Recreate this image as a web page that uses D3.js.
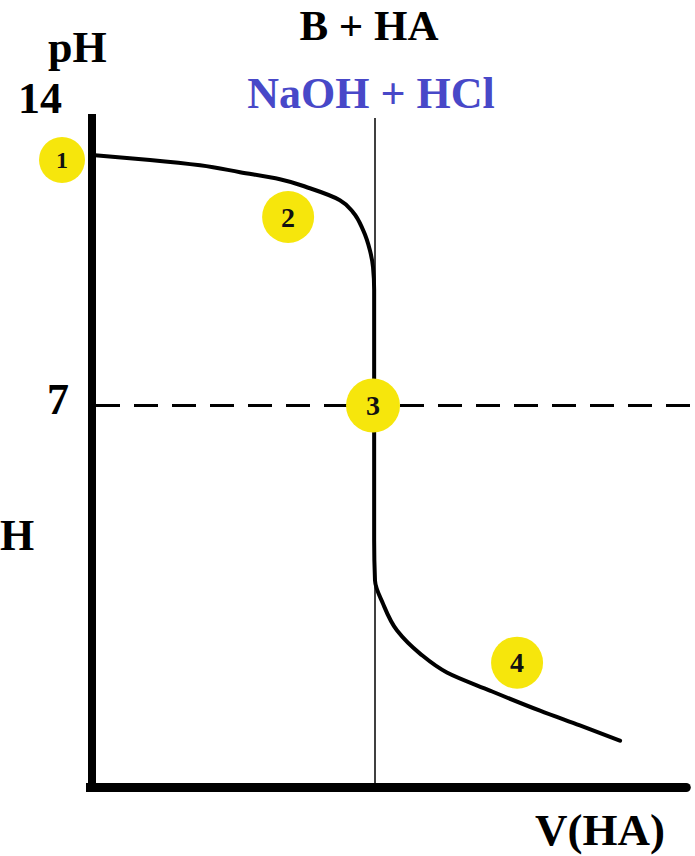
<!DOCTYPE html>
<html><head><meta charset="utf-8">
<script src="https://cdn.jsdelivr.net/npm/d3@7"></script>
<style>html,body{margin:0;padding:0;background:#fff;overflow:hidden}</style>
</head><body>
<svg id="c" width="695" height="856"></svg>
<script>
// Titration curve data: volume of HA added vs pH
const volume = [0, 2.05, 3.82, 5.23, 6.64, 7.70, 8.76, 9.22, 9.58, 9.82, 9.93, 9.97, 9.97, 9.97, 9.97, 9.97, 10.0, 10.28, 10.78, 11.59, 12.54, 14.06, 15.83, 17.24, 18.66];
const pH     = [13.10, 12.98, 12.85, 12.68, 12.51, 12.29, 12.00, 11.71, 11.27, 10.78, 10.37, 9.81, 8.84, 7.0, 5.18, 3.72, 2.74, 2.18, 1.52, 0.96, 0.50, 0.06, -0.43, -0.79, -1.16];
const markerLabels = ["1", "2", "3", "4"];
const markerV  = [-1.06, 6.93, 9.93, 15.02];
const markerPH = [12.98, 11.59, 7.0, 0.74];
const tickLabels = ["14", "7"];
const tickValues = [14, 7];
const equivalenceV = 10;

const svg = d3.select("#c");
const x = d3.scaleLinear().domain([0, 20]).range([92, 658]);
const y = d3.scaleLinear().domain([-2.3, 14]).range([787.5, 118]);
const serif = "'Liberation Serif','Times New Roman',serif";

// dashed pH 7 line
svg.append("line").attr("x1", x(0)).attr("x2", 695).attr("y1", y(7)).attr("y2", y(7))
  .attr("stroke", "#000").attr("stroke-width", 3).attr("stroke-dasharray", "24,14").attr("stroke-dashoffset", -4);

// equivalence line
svg.append("line").attr("x1", x(equivalenceV)).attr("x2", x(equivalenceV)).attr("y1", y(14)).attr("y2", y(-2.3))
  .attr("stroke", "#000").attr("stroke-width", 1.5);

// curve
const pts = volume.map((v, i) => [v, pH[i]]);
svg.append("path").datum(pts)
  .attr("d", d3.line().x(d => x(d[0])).y(d => y(d[1])).curve(d3.curveMonotoneY))
  .attr("fill", "none").attr("stroke", "#000").attr("stroke-width", 4).attr("stroke-linecap", "round");

// axes
svg.append("line").attr("x1", x(0)).attr("x2", x(0)).attr("y1", y(14) - 4).attr("y2", y(-2.3) + 4)
  .attr("stroke", "#000").attr("stroke-width", 8);
svg.append("line").attr("x1", x(0) - 6).attr("x2", x(21.0)).attr("y1", y(-2.3)).attr("y2", y(-2.3))
  .attr("stroke", "#000").attr("stroke-width", 9);
svg.append("circle").attr("cx", x(21.0)).attr("cy", y(-2.3)).attr("r", 4.5).attr("fill", "#000");

// markers
const radii = [23, 26, 27, 26];
markerLabels.forEach((lab, i) => {
  const g = svg.append("g").attr("transform", `translate(${x(markerV[i])},${y(markerPH[i])})`);
  g.append("circle").attr("r", radii[i]).attr("fill", "#f6e60c");
  g.append("text").text(lab).attr("text-anchor", "middle").attr("dy", "0.35em")
    .attr("font-family", serif).attr("font-weight", "bold").attr("font-size", i === 0 ? 24 : 28).attr("fill", "#111");
});

// tick labels
svg.append("text").text(tickLabels[0]).attr("x", 18).attr("y", y(tickValues[0]) - 5)
  .attr("font-family", serif).attr("font-weight", "bold").attr("font-size", 44);
svg.append("text").text(tickLabels[1]).attr("x", 47).attr("y", y(tickValues[1]) + 8)
  .attr("font-family", serif).attr("font-weight", "bold").attr("font-size", 44);

// axis titles
svg.append("text").text("pH").attr("x", 48).attr("y", 62)
  .attr("font-family", serif).attr("font-weight", "bold").attr("font-size", 44);
svg.append("text").text("H").attr("x", 0).attr("y", 550)
  .attr("font-family", serif).attr("font-weight", "bold").attr("font-size", 44);
svg.append("text").text("V(HA)").attr("x", 535).attr("y", 845)
  .attr("font-family", serif).attr("font-weight", "bold").attr("font-size", 45);

// titles
svg.append("text").text("B + HA").attr("x", 369).attr("y", 40).attr("text-anchor", "middle")
  .attr("font-family", serif).attr("font-weight", "bold").attr("font-size", 43);
svg.append("text").text("NaOH + HCl").attr("x", 371).attr("y", 108).attr("text-anchor", "middle")
  .attr("font-family", serif).attr("font-weight", "bold").attr("font-size", 44).attr("fill", "#4848c8");
</script>
</body></html>
